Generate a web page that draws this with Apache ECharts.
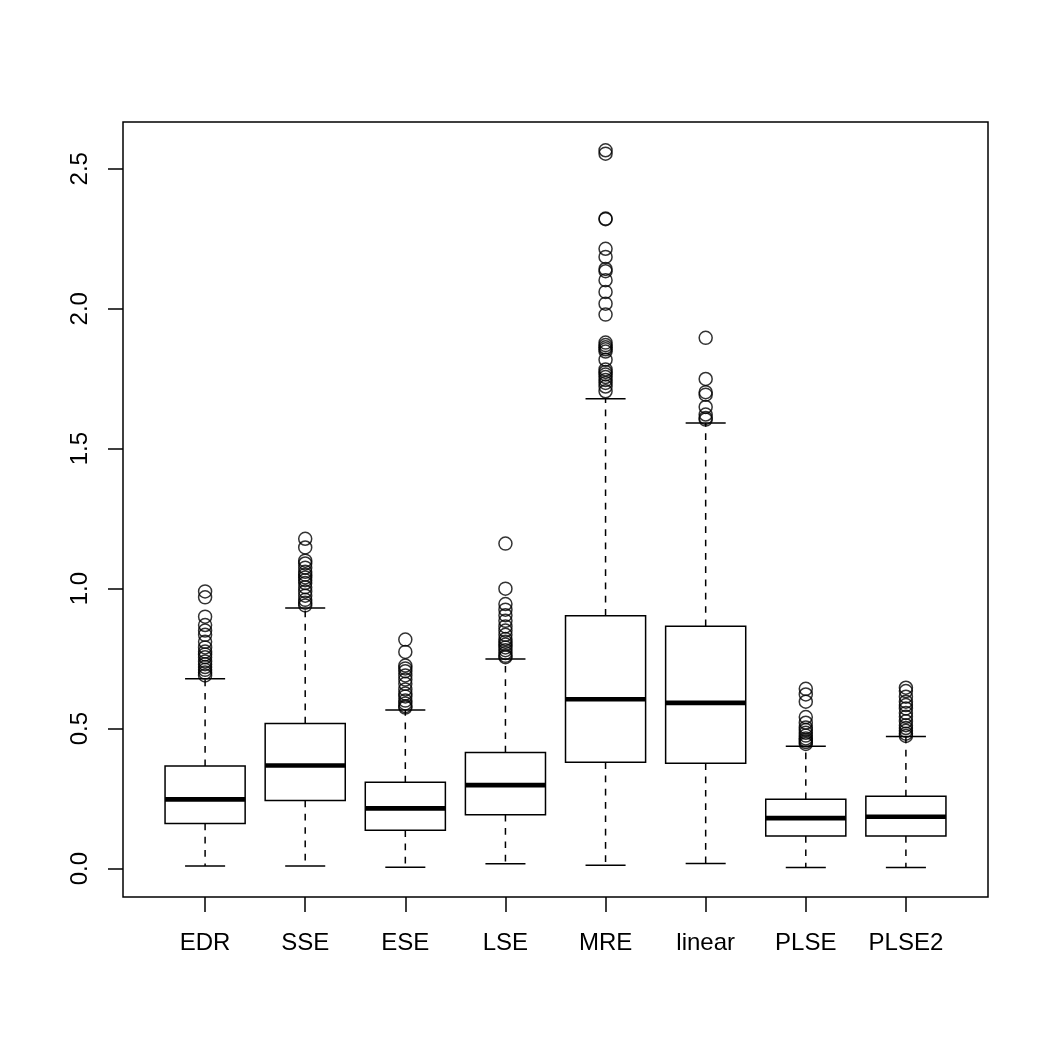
<!DOCTYPE html>
<html>
<head>
<meta charset="utf-8">
<script src="https://cdn.jsdelivr.net/npm/echarts@6/dist/echarts.min.js"></script>
<style>
html,body{margin:0;padding:0;background:#fff;}
#chart{width:1050px;height:1050px;}
</style>
</head>
<body>
<div id="chart"></div>
<script>
// ---- data ----
var categories = ["EDR", "SSE", "ESE", "LSE", "MRE", "linear", "PLSE", "PLSE2"];
var lowerWhisker = [0.009, 0.009, 0.005, 0.017, 0.012, 0.018, 0.004, 0.004];
var q1           = [0.161, 0.243, 0.137, 0.192, 0.380, 0.376, 0.116, 0.116];
var median       = [0.247, 0.368, 0.215, 0.298, 0.605, 0.592, 0.180, 0.185];
var q3           = [0.366, 0.518, 0.308, 0.415, 0.903, 0.866, 0.248, 0.258];
var upperWhisker = [0.678, 0.931, 0.566, 0.749, 1.678, 1.592, 0.437, 0.472];

var outEDR = [0.990, 0.969, 0.900, 0.870, 0.850, 0.835, 0.810, 0.790, 0.775, 0.765, 0.755, 0.740, 0.730, 0.720, 0.710, 0.700, 0.690];
var outSSE = [1.178, 1.147, 1.100, 1.090, 1.075, 1.060, 1.050, 1.040, 1.030, 1.020, 1.005, 0.990, 0.975, 0.960, 0.950, 0.940];
var outESE = [0.818, 0.774, 0.725, 0.715, 0.705, 0.690, 0.675, 0.660, 0.640, 0.625, 0.615, 0.600, 0.590, 0.580, 0.575];
var outLSE = [1.161, 1.000, 0.945, 0.925, 0.905, 0.885, 0.865, 0.850, 0.835, 0.820, 0.810, 0.800, 0.790, 0.780, 0.770, 0.760, 0.755];
var outMRE = [2.566, 2.554, 2.322, 2.320, 2.214, 2.185, 2.142, 2.134, 2.102, 2.060, 2.018, 1.979, 1.879, 1.870, 1.862, 1.855, 1.847, 1.818, 1.783, 1.774, 1.765, 1.756, 1.745, 1.735, 1.722, 1.705];
var outLinear = [1.896, 1.749, 1.702, 1.693, 1.649, 1.622, 1.610, 1.604];
var outPLSE = [0.642, 0.622, 0.596, 0.541, 0.521, 0.504, 0.495, 0.485, 0.475, 0.465, 0.458, 0.452, 0.445];
var outPLSE2 = [0.646, 0.634, 0.614, 0.596, 0.584, 0.572, 0.556, 0.542, 0.526, 0.512, 0.502, 0.492, 0.482, 0.474];

var yTicks = [0, 0.5, 1.0, 1.5, 2.0, 2.5];
// ---- end data ----

var outlierLists = [outEDR, outSSE, outESE, outLSE, outMRE, outLinear, outPLSE, outPLSE2];
var xPositions = categories.map(function (c, i) { return i + 1; });

var boxData = categories.map(function (c, i) {
  return [i + 1, lowerWhisker[i], q1[i], median[i], q3[i], upperWhisker[i]];
});
var outlierData = [];
outlierLists.forEach(function (list, i) {
  list.forEach(function (v) { outlierData.push([i + 1, v]); });
});

var LW = 1.5;
var halfBox = 0.4;
var halfCap = 0.2;

function renderBox(params, api) {
  var x = api.value(0);
  var lo = api.value(1), a = api.value(2), m = api.value(3), b = api.value(4), hi = api.value(5);
  var tl = api.coord([x - halfBox, b]);
  var br = api.coord([x + halfBox, a]);
  var mL = api.coord([x - halfBox, m]);
  var mR = api.coord([x + halfBox, m]);
  var cTop = api.coord([x, b]);
  var cHi = api.coord([x, hi]);
  var cBot = api.coord([x, a]);
  var cLo = api.coord([x, lo]);
  var capHiL = api.coord([x - halfCap, hi]);
  var capHiR = api.coord([x + halfCap, hi]);
  var capLoL = api.coord([x - halfCap, lo]);
  var capLoR = api.coord([x + halfCap, lo]);
  var solid = { stroke: '#000', lineWidth: LW, fill: null };
  var dashed = { stroke: '#000', lineWidth: LW, lineDash: [6.7, 6.6], fill: null };
  return {
    type: 'group',
    children: [
      { type: 'line', shape: { x1: cTop[0], y1: cTop[1], x2: cHi[0], y2: cHi[1] }, style: dashed },
      { type: 'line', shape: { x1: cBot[0], y1: cBot[1], x2: cLo[0], y2: cLo[1] }, style: dashed },
      { type: 'line', shape: { x1: capHiL[0], y1: capHiL[1], x2: capHiR[0], y2: capHiR[1] }, style: solid },
      { type: 'line', shape: { x1: capLoL[0], y1: capLoL[1], x2: capLoR[0], y2: capLoR[1] }, style: solid },
      { type: 'rect', shape: { x: tl[0], y: tl[1], width: br[0] - tl[0], height: br[1] - tl[1] }, style: { stroke: '#000', lineWidth: LW, fill: 'rgba(0,0,0,0)' } },
      { type: 'line', shape: { x1: mL[0], y1: mL[1], x2: mR[0], y2: mR[1] }, style: { stroke: '#000', lineWidth: 4.6 } }
    ]
  };
}

var chart = echarts.init(document.getElementById('chart'), null, { renderer: 'canvas' });
chart.setOption({
  animation: false,
  backgroundColor: '#fff',
  textStyle: { fontFamily: 'Liberation Sans, Arial, Helvetica, sans-serif' },
  grid: {
    left: 123, right: 62, top: 122, bottom: 153,
    show: true, borderColor: '#000', borderWidth: LW, backgroundColor: 'rgba(0,0,0,0)'
  },
  xAxis: {
    type: 'value', min: 0.18, max: 8.82, position: 'bottom',
    axisLine: { show: false, onZero: false },
    splitLine: { show: false },
    axisTick: { show: true, inside: false, customValues: xPositions, length: 15, lineStyle: { color: '#000', width: LW } },
    axisLabel: {
      show: true, customValues: xPositions, margin: 34,
      fontSize: 24, color: '#000', fontFamily: 'Liberation Sans, Arial, sans-serif',
      formatter: function (v) { return categories[Math.round(v) - 1]; }
    }
  },
  yAxis: {
    type: 'value', min: -0.1016, max: 2.667, position: 'left',
    axisLine: { show: false, onZero: false },
    splitLine: { show: false },
    axisTick: { show: true, inside: false, customValues: yTicks, length: 15, lineStyle: { color: '#000', width: LW } },
    axisLabel: {
      show: true, customValues: yTicks, rotate: 90, margin: 31,
      fontSize: 24, color: '#000', fontFamily: 'Liberation Sans, Arial, sans-serif',
      formatter: function (v) { return v.toFixed(1); }
    }
  },
  series: [
    {
      type: 'custom',
      renderItem: renderBox,
      data: boxData,
      encode: { x: 0, y: [1, 2, 3, 4, 5] },
      clip: false,
      z: 2
    },
    {
      type: 'scatter',
      data: outlierData,
      symbol: 'circle',
      symbolSize: 13,
      itemStyle: { color: 'rgba(0,0,0,0)', borderColor: '#000', borderWidth: LW },
      z: 3
    }
  ]
});
</script>
</body>
</html>
